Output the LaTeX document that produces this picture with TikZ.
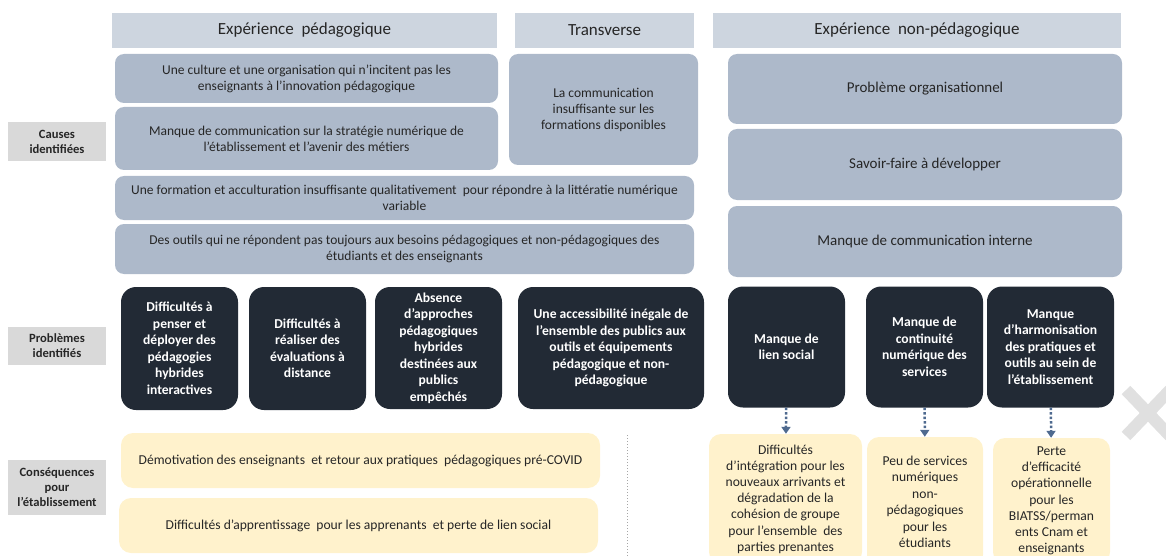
\documentclass[tikz,border=0pt]{standalone}
\usepackage{fontspec}
\setmainfont{Carlito}
\usepackage{tikz}
\usetikzlibrary{positioning,arrows.meta}
\definecolor{hdrgray}{HTML}{CDD5DF}
\definecolor{causeblue}{HTML}{ADB9CA}
\definecolor{probdark}{HTML}{222A35}
\definecolor{consyellow}{HTML}{FFF2CC}
\definecolor{sidegray}{HTML}{D9D9D9}
\definecolor{arrowblue}{HTML}{4F6A8F}
\definecolor{txtdark}{HTML}{262626}
\definecolor{markgray}{HTML}{E0E0E0}

\begin{document}
\begin{tikzpicture}[x=1pt,y=-1pt,
  hdr/.style={fill=hdrgray, minimum height=35pt, font=\fontsize{17}{20}\selectfont, text=txtdark},
  cause/.style={fill=causeblue, rounded corners=9pt, align=center, font=\fontsize{13.5}{16}\selectfont, text=txtdark},
  bigcause/.style={cause, font=\fontsize{15}{18}\selectfont},
  side/.style={fill=sidegray, minimum width=98pt, align=center, font=\bfseries\fontsize{12.6}{15}\selectfont, text=txtdark},
  prob/.style={fill=probdark, rounded corners=15pt, align=center, text=white, font=\bfseries\fontsize{13.6}{16.5}\selectfont},
  cons/.style={fill=consyellow, rounded corners=12pt, align=center, font=\fontsize{13.6}{16.5}\selectfont, text=txtdark},
  tightcons/.style={cons, font=\fontsize{13.6}{16.2}\selectfont},
  link/.style={arrowblue, line width=2.5pt, dotted, -{Triangle[length=7pt,width=9pt]}}
]
\clip (0,0) rectangle (1166,556);
  %----headers----%
  \node[hdr, minimum width=385pt] (hped) at (304.5,30.5) {Expérience \ pédagogique};
  \node[hdr, minimum width=179pt] (htrans) at (604.5,30.5) {Transverse};
  \node[hdr, minimum width=408pt] (hnonped) at (917,30.5) {Expérience \ non-pédagogique};
  %----side labels----%
  \node[side, minimum height=39pt] (causes) at (57,141.5) {Causes\\identifiées};
  \node[side, minimum height=38pt] (problemes) at (57,346) {Problèmes\\identifiés};
  \node[side, minimum height=55pt] (consequences) at (57,487.5) {Conséquences\\pour\\l’établissement};
  %----causes----%
  \node[cause, minimum width=383pt, minimum height=49pt] (culture) at (306.5,78.5) {Une culture et une organisation qui n’incitent pas les\\enseignants à l’innovation pédagogique};
  \node[cause, minimum width=383pt, minimum height=63pt] (strategie) at (306.5,138.5) {Manque de communication sur la stratégie numérique de\\l’établissement et l’avenir des métiers};
  \node[cause, minimum width=189pt, minimum height=111pt] (commform) at (603.5,109.5) {La communication\\insuffisante sur les\\formations disponibles};
  \node[cause, minimum width=579pt, minimum height=44pt] (formation) at (404.5,198) {Une formation et acculturation insuffisante qualitativement \ pour répondre à la littératie numérique\\variable};
  \node[cause, minimum width=579pt, minimum height=50pt] (outils) at (404.5,249) {Des outils qui ne répondent pas toujours aux besoins pédagogiques et non-pédagogiques des\\étudiants et des enseignants};
  \node[bigcause, minimum width=394pt, minimum height=70pt] (orga) at (925,89) {Problème organisationnel};
  \node[bigcause, minimum width=394pt, minimum height=71pt] (savoir) at (925,164.5) {Savoir-faire à développer};
  \node[bigcause, minimum width=394pt, minimum height=71pt] (interne) at (925,241.5) {Manque de communication interne};
  %----problemes----%
  \node[prob, minimum width=117pt, minimum height=123pt] (penser) at (179.5,348.5) {Difficultés à\\penser et\\déployer des\\pédagogies\\hybrides\\interactives};
  \node[prob, minimum width=117pt, minimum height=123pt] (evaluations) at (307.5,348.5) {Difficultés à\\réaliser des\\évaluations à\\distance};
  \node[prob, minimum width=127pt, minimum height=122pt] (approches) at (438.5,348) {Absence\\d’approches\\pédagogiques\\hybrides\\destinées aux\\publics\\empêchés};
  \node[prob, minimum width=186pt, minimum height=122pt] (access) at (611,348) {Une accessibilité inégale de\\l’ensemble des publics aux\\outils et équipements\\pédagogique et non-\\pédagogique};
  \node[prob, minimum width=117pt, minimum height=121pt] (lien) at (786.5,347) {Manque de\\lien social};
  \node[prob, minimum width=117pt, minimum height=121pt] (continuite) at (924.5,347) {Manque de\\continuité\\numérique des\\services};
  \node[prob, minimum width=127pt, minimum height=121pt] (harmo) at (1050.5,347) {Manque\\d’harmonisation\\des pratiques et\\outils au sein de\\l’établissement};
  %----consequences----%
  \node[cons, minimum width=479pt, minimum height=55pt] (demotiv) at (360.5,460.5) {Démotivation des enseignants \ et retour aux pratiques \ pédagogiques pré-COVID};
  \node[cons, minimum width=479pt, minimum height=55pt] (apprent) at (358.5,525.5) {Difficultés d’apprentissage \ pour les apprenants \ et perte de lien social};
  \node[tightcons, minimum width=153pt, minimum height=130pt] (integr) at (785.5,499) {Difficultés\\d’intégration pour les\\nouveaux arrivants et\\dégradation de la\\cohésion de groupe\\pour l’ensemble \ des\\parties prenantes};
  \node[cons, minimum width=116pt, minimum height=130pt] (peu) at (925,502) {Peu de services\\numériques\\non-\\pédagogiques\\pour les\\étudiants};
  \node[tightcons, minimum width=117pt, minimum height=126pt] (perte) at (1051.5,501) {Perte\\d’efficacité\\opérationnelle\\pour les\\BIATSS/perman\\ents Cnam et\\enseignants};
  %----links----%
  \draw[link] (lien) -- (integr);
  \draw[link] (continuite) -- (peu);
  \draw[link] (harmo) -- (perte);
  %----divider----%
  \coordinate (divtop) at (627,435);
  \coordinate (divbot) at (627,556);
  \draw[gray!70, line width=1pt, dotted] (divtop) -- (divbot);
  %----mark----%
  \draw[markgray, line width=12pt] (1126,390) -- (1170,436);
  \draw[markgray, line width=12pt] (1126,436) -- (1170,390);
\end{tikzpicture}
\end{document}
